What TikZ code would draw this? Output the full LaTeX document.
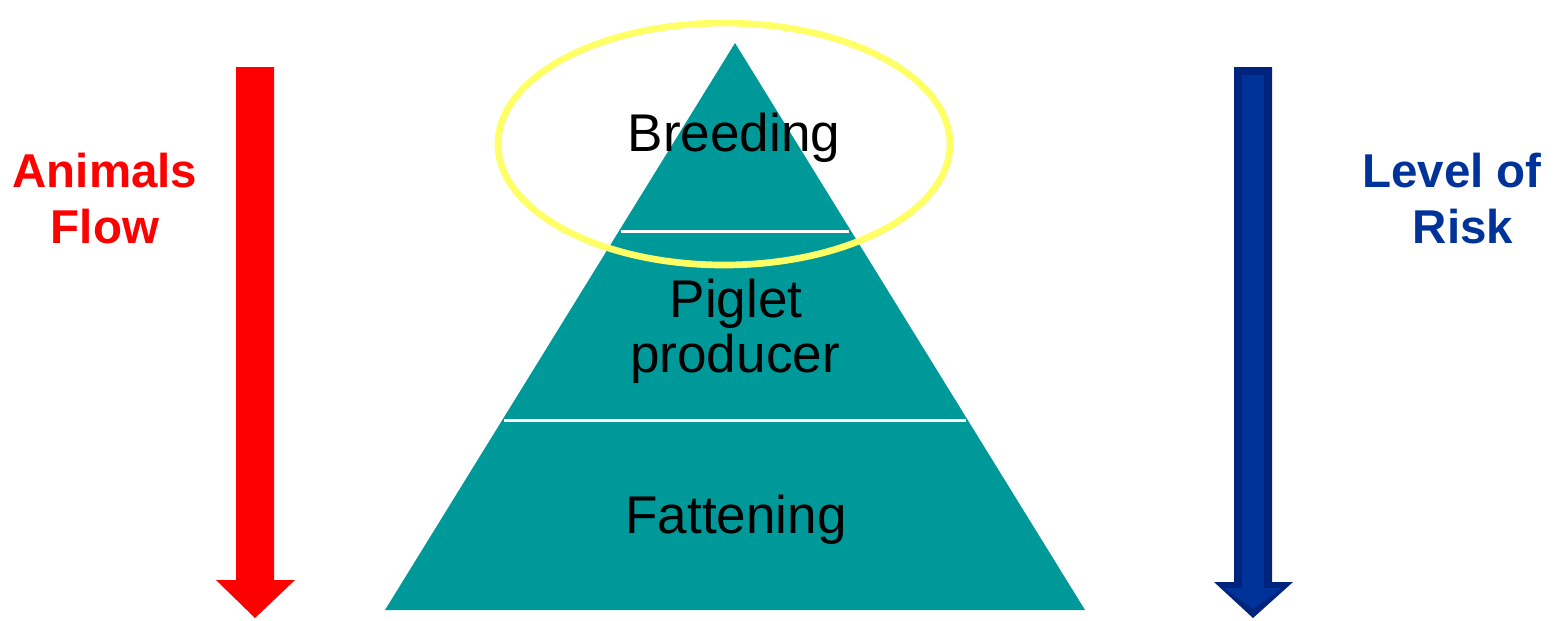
\documentclass[tikz,border=0pt]{standalone}
\usepackage{fontspec}
\setmainfont{Liberation Sans}
\definecolor{pyramidteal}{HTML}{009999}
\definecolor{flowred}{HTML}{FF0000}
\definecolor{riskblue}{HTML}{003399}
\definecolor{riskdark}{HTML}{00247E}
\definecolor{halo}{HTML}{FFFF66}

\begin{document}
\begin{tikzpicture}[
  x=0.01cm, y=-0.01cm,
  layer/.style={font=\fontsize{15.1pt}{17pt}\selectfont, anchor=base, inner sep=0pt},
  sidelabel/.style={font=\fontsize{13.5pt}{16pt}\selectfont\bfseries, anchor=base, inner sep=0pt},
  divider/.style={draw=white, line width=0.85pt}
]
  \useasboundingbox (0,0) rectangle (1555,620);

  % pyramid
  \fill[pyramidteal] (385,610) -- (1085,610) -- (735,43) -- cycle;
  \draw[divider] (621,231) -- (849,231);
  \draw[divider] (504,420) -- (966,420);

  \node[layer] (breeding) at (734,151) {Breeding};
  \node[layer] (piglet) at (736,317) {Piglet};
  \node[layer] (producer) at (735,372) {producer};
  \node[layer] (fattening) at (736,533) {Fattening};

  % highlight of the top level
  \draw[halo, line width=1.9pt] (724,144) ellipse [x radius=226, y radius=121];

  % animals flow
  \fill[flowred] (236,67) -- (274,67) -- (274,580) -- (295,580) -- (255,618)
    -- (216,580) -- (236,580) -- cycle;
  \node[sidelabel, text=flowred] (animals) at (105,187) {Animals};
  \node[sidelabel, text=flowred] (flow) at (105,243) {Flow};

  % level of risk
  \fill[riskdark] (1234,67) -- (1272,67) -- (1272,582) -- (1293,582) -- (1253,618)
    -- (1214,582) -- (1234,582) -- cycle;
  \fill[riskblue] (1242,75) -- (1264,75) -- (1264,588) -- (1282,588) -- (1253,609)
    -- (1224,588) -- (1242,588) -- cycle;
  \node[sidelabel, text=riskblue] (level) at (1452,187) {Level of};
  \node[sidelabel, text=riskblue] (risk) at (1463,243) {Risk};
\end{tikzpicture}
\end{document}
